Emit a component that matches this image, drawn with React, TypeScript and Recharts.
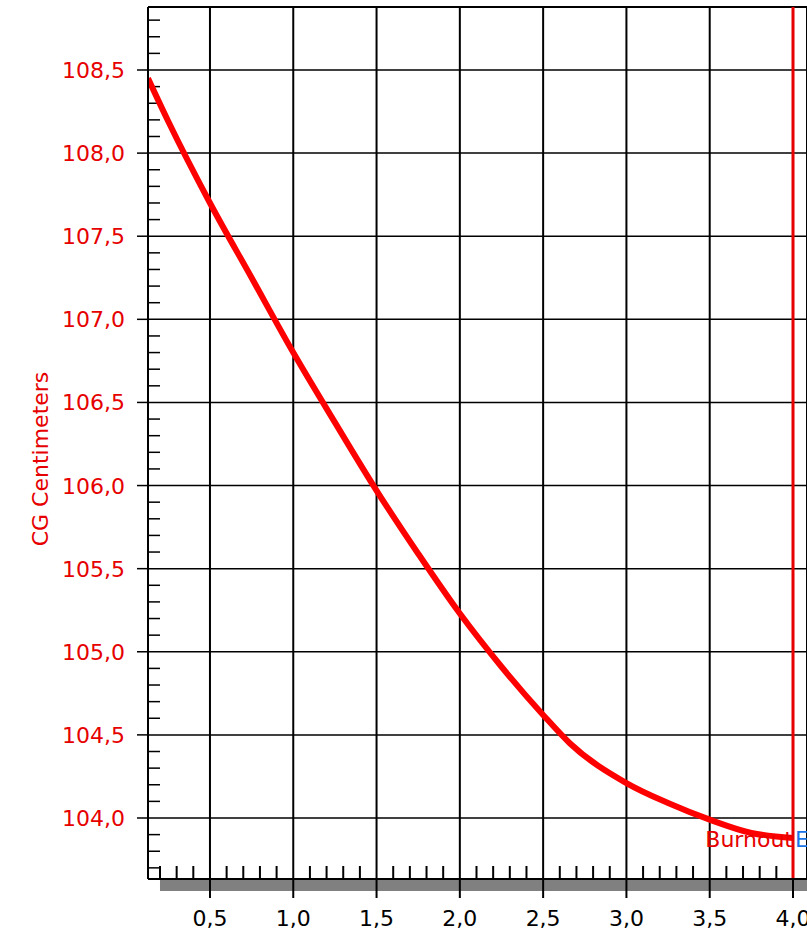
import {
  CartesianGrid,
  Line,
  LineChart,
  ReferenceLine,
  XAxis,
  YAxis,
} from "recharts";

// flight time (s) and centre of gravity (cm)
const TIME = [0.128, 0.25, 0.5, 0.75, 1.0, 1.25, 1.5, 1.75, 2.0, 2.25, 2.5, 2.66, 3.0, 3.25, 3.5, 3.75, 4.0];
const CG = [108.45, 108.19, 107.7, 107.25, 106.8, 106.38, 105.97, 105.59, 105.23, 104.91, 104.62, 104.45, 104.21, 104.09, 103.99, 103.91, 103.88];

const X_TICKS = [0.5, 1.0, 1.5, 2.0, 2.5, 3.0, 3.5, 4.0];
const Y_TICKS = [104.0, 104.5, 105.0, 105.5, 106.0, 106.5, 107.0, 107.5, 108.0, 108.5];
const X_MINOR = [0.2, 0.3, 0.4, 0.6, 0.7, 0.8, 0.9, 1.1, 1.2, 1.3, 1.4, 1.6, 1.7, 1.8, 1.9, 2.1, 2.2, 2.3, 2.4, 2.6, 2.7, 2.8, 2.9, 3.1, 3.2, 3.3, 3.4, 3.6, 3.7, 3.8, 3.9];
const Y_MINOR = [103.7, 103.8, 103.9, 104.1, 104.2, 104.3, 104.4, 104.6, 104.7, 104.8, 104.9, 105.1, 105.2, 105.3, 105.4, 105.6, 105.7, 105.8, 105.9, 106.1, 106.2, 106.3, 106.4, 106.6, 106.7, 106.8, 106.9, 107.1, 107.2, 107.3, 107.4, 107.6, 107.7, 107.8, 107.9, 108.1, 108.2, 108.3, 108.4, 108.6, 108.7, 108.8];

const X_MIN = 0.128;
const X_MAX = 4.084;
const Y_MIN = 103.633;
const Y_MAX = 108.879;
const BURNOUT = 4.0;
const BAR_START = 0.2;

const data = TIME.map((t, i) => ({ t, cg: CG[i] }));

const FONT = "'DejaVu Sans', Arial, sans-serif";
const RED = "#e60000";
const fmt = (v: number) => v.toFixed(1).replace(".", ",");

const XTick = (props: any) => {
  const { x, y, payload } = props;
  return (
    <g>
      <line x1={x} x2={x} y1={y} y2={y + 19} stroke="#000" strokeWidth={2} />
      <text x={x} y={y + 47} textAnchor="middle" fontSize={22} fontFamily={FONT} fill="#000">
        {fmt(payload.value)}
      </text>
    </g>
  );
};

const YTick = (props: any) => {
  const { x, y, payload } = props;
  return (
    <g>
      <line x1={x - 11} x2={x} y1={y} y2={y} stroke="#000" strokeWidth={1.5} />
      <text x={x - 23} y={y + 8} textAnchor="end" fontSize={22} fontFamily={FONT} fill={RED}>
        {fmt(payload.value)}
      </text>
    </g>
  );
};

const yLabel = (p: any) => {
  const vb = p.viewBox;
  const cx = vb.x + 40;
  const cy = vb.y + vb.height / 2 + 16;
  return (
    <text
      x={cx}
      y={cy}
      transform={`rotate(-90 ${cx} ${cy})`}
      textAnchor="middle"
      dominantBaseline="central"
      fontSize={22}
      fontFamily={FONT}
      fill={RED}
    >
      CG Centimeters
    </text>
  );
};

const xMinorShape = (p: any) => {
  const bottom = Math.max(p.y1, p.y2);
  return <line x1={p.x1} x2={p.x1} y1={bottom} y2={bottom - 13} stroke="#000" strokeWidth={2} />;
};

const yMinorShape = (p: any) => {
  const left = Math.min(p.x1, p.x2);
  return <line x1={left} x2={left + 12} y1={p.y1} y2={p.y1} stroke="#000" strokeWidth={1.5} />;
};

const barShape = (p: any) => (
  <rect x={Math.min(p.x1, p.x2)} y={p.y1 + 1} width={Math.abs(p.x2 - p.x1)} height={11} fill="#808080" />
);

const burnoutLabel = (p: any) => {
  const vb = p.viewBox;
  const base = vb.y + vb.height - 32;
  return (
    <g>
      <text x={vb.x} y={base} textAnchor="end" fontSize={22} fontFamily={FONT} fill={RED}>
        Burnout
      </text>
      <text x={vb.x + 2} y={base} textAnchor="start" fontSize={22} fontFamily={FONT} fill="#1a73e8">
        Ejection
      </text>
    </g>
  );
};

export default function App() {
  return (
    <div style={{ position: "absolute", left: 0, top: 0, background: "#fff" }}>
      <LineChart width={807} height={935} data={data} margin={{ top: 7, right: 0, left: 0, bottom: 0 }}>
        <CartesianGrid vertical={false} stroke="#000" strokeWidth={1.5} />
        <CartesianGrid horizontal={false} stroke="#000" strokeWidth={2} />

        <XAxis
          dataKey="t"
          type="number"
          domain={[X_MIN, X_MAX]}
          allowDataOverflow
          ticks={X_TICKS}
          interval={0}
          height={56}
          tickSize={0}
          tickMargin={0}
          tickLine={false}
          tick={XTick}
          axisLine={{ stroke: "#000", strokeWidth: 2 }}
        />
        <YAxis
          type="number"
          domain={[Y_MIN, Y_MAX]}
          allowDataOverflow
          ticks={Y_TICKS}
          interval={0}
          width={148}
          tickSize={0}
          tickMargin={0}
          tickLine={false}
          tick={YTick}
          axisLine={{ stroke: "#000", strokeWidth: 2 }}
          label={{ content: yLabel }}
        />

        <ReferenceLine y={Y_MAX} stroke="#000" strokeWidth={2} />
        {X_MINOR.map((v) => (
          <ReferenceLine key={"xm" + v} x={v} shape={xMinorShape} />
        ))}
        {Y_MINOR.map((v) => (
          <ReferenceLine key={"ym" + v} y={v} shape={yMinorShape} />
        ))}
        <ReferenceLine
          segment={[
            { x: BAR_START, y: Y_MIN },
            { x: X_MAX, y: Y_MIN },
          ]}
          shape={barShape}
        />

        <Line
          type="monotone"
          dataKey="cg"
          stroke="#ff0000"
          strokeWidth={6}
          dot={false}
          activeDot={false}
          isAnimationActive={false}
        />

        <ReferenceLine x={BURNOUT} stroke={RED} strokeWidth={3} label={{ content: burnoutLabel }} />
      </LineChart>
    </div>
  );
}
